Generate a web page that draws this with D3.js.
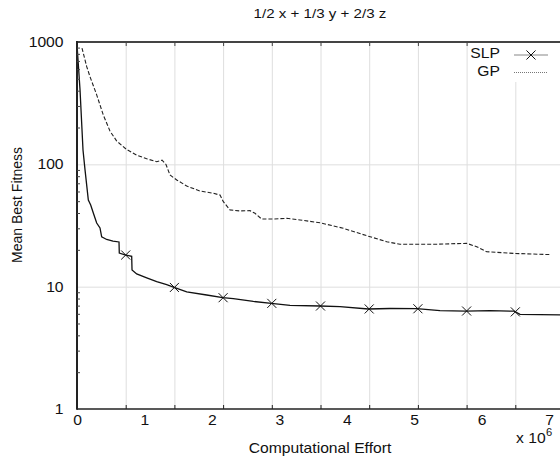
<!DOCTYPE html>
<html>
<head>
<meta charset="utf-8">
<script src="https://cdn.jsdelivr.net/npm/d3@7"></script>
<style>
  body { margin: 0; background: #fff; }
  svg  { font-family: "Liberation Sans", Arial, Helvetica, sans-serif; }
</style>
</head>
<body>
<script>
const WIDTH  = 560;
const HEIGHT = 459;
const LEFT = 77, RIGHT = 564, TOP = 42, BOTTOM = 409;
const STRETCH = "scale(1.12,1)";   // glyphs in the original are a bit wide

// effort in millions of evaluations
const X_MAX = 7.222;

// SLP run (solid line)
const slpEffort  = [0, 0.045, 0.089, 0.119, 0.168, 0.203, 0.242, 0.292, 0.341, 0.366,
                    0.440, 0.534, 0.623, 0.627, 0.712, 0.811, 0.816, 0.885, 1.034, 1.182,
                    1.330, 1.439, 1.627, 1.923, 2.161, 2.318, 2.615, 2.882, 3.159, 3.604,
                    3.900, 4.320, 4.642, 5.038, 5.383, 5.765, 6.125, 6.466, 6.481, 6.570, 7.163];
const slpFitness = [950, 405, 131, 90, 51.1, 46.5, 40, 33.1, 30.2, 25.5,
                    24.3, 23.6, 23.2, 18.8, 18.2, 17.7, 13.7, 12.7, 11.8, 11.0,
                    10.4, 9.88, 9.05, 8.55, 8.13, 7.97, 7.57, 7.31, 7.02, 6.95,
                    6.86, 6.57, 6.63, 6.61, 6.38, 6.32, 6.38, 6.30, 6.30, 5.94, 5.87];

// GP run (dashed line)
const gpEffort  = [0.074, 0.144, 0.193, 0.292, 0.390, 0.489, 0.589, 0.737, 0.885, 1.034,
                   1.182, 1.261, 1.320, 1.379, 1.479, 1.627, 1.824, 2.021, 2.121, 2.170,
                   2.269, 2.417, 2.566, 2.640, 2.739, 2.911, 3.110, 3.307, 3.604, 3.949,
                   4.296, 4.593, 4.790, 5.284, 5.779, 5.928, 6.076, 6.470, 7.004];
const gpFitness = [893, 629, 520, 370, 253, 187, 155, 132, 119, 111,
                   105, 108, 99.7, 81.8, 74.5, 66.5, 60.5, 58.0, 56.1, 49.5,
                   42.4, 41.6, 41.8, 39.8, 35.7, 35.7, 36.2, 35.1, 33.3, 30.0,
                   26.1, 23.3, 22.2, 22.2, 22.6, 21.2, 19.3, 18.7, 18.3];

const xTickLabels = [0, 1, 2, 3, 4, 5, 6, 7];
const yTickValues = [1, 10, 100, 1000];

const svg = d3.select("body").append("svg")
    .attr("width", WIDTH)
    .attr("height", HEIGHT);

const xScale = d3.scaleLinear().domain([0, X_MAX]).range([LEFT, RIGHT]);
const yScale = d3.scaleLog().domain([1, 1000]).range([BOTTOM, TOP]);

// gridlines / marker positions: ten equal steps of the effort axis
const gridValues  = d3.range(1, 10).map(k => k * X_MAX / 10);
const minorValues = [1, 10, 100].flatMap(d => d3.range(2, 10).map(m => m * d));

function addText(x, y, str, size, anchor) {
  return svg.append("text")
    .attr("transform", "translate(" + x + "," + y + ") " + STRETCH)
    .attr("text-anchor", anchor)
    .style("font-size", size + "px")
    .style("fill", "#111")
    .text(str);
}

function drawGrid() {
  svg.append("g")
    .attr("transform", "translate(0," + BOTTOM + ")")
    .call(d3.axisBottom(xScale).tickValues(gridValues).tickSize(-(BOTTOM - TOP)).tickFormat(""))
    .call(g => g.select(".domain").remove())
    .call(g => g.selectAll("line").attr("stroke", "#dedede"));
  svg.append("g")
    .attr("transform", "translate(" + LEFT + ",0)")
    .call(d3.axisLeft(yScale).tickValues([10, 100]).tickSize(-(RIGHT - LEFT)).tickFormat(""))
    .call(g => g.select(".domain").remove())
    .call(g => g.selectAll("line").attr("stroke", "#dedede"));
}

// log-space interpolation, so the x markers sit on the drawn curve
function valueAt(xs, ys, x) {
  const i = Math.min(Math.max(d3.bisectLeft(xs, x), 1), xs.length - 1);
  const t = (x - xs[i - 1]) / (xs[i] - xs[i - 1]);
  return Math.exp(Math.log(ys[i - 1]) * (1 - t) + Math.log(ys[i]) * t);
}

function drawCurves() {
  svg.append("clipPath").attr("id", "plot-clip")
    .append("rect")
      .attr("x", LEFT).attr("y", TOP)
      .attr("width", RIGHT - LEFT).attr("height", BOTTOM - TOP);

  const line = d3.line().x(d => xScale(d[0])).y(d => yScale(d[1]));
  const plot = svg.append("g").attr("clip-path", "url(#plot-clip)");

  plot.append("path")
    .datum(gpEffort.map((x, i) => [x, gpFitness[i]]))
    .attr("d", line)
    .attr("fill", "none")
    .attr("stroke", "#222")
    .attr("stroke-width", 1.1)
    .attr("stroke-dasharray", "4,2");

  plot.append("path")
    .datum(slpEffort.map((x, i) => [x, slpFitness[i]]))
    .attr("d", line)
    .attr("fill", "none")
    .attr("stroke", "#111")
    .attr("stroke-width", 1.3);

  const sym = d3.symbol().type(d3.symbolX).size(55);
  plot.selectAll(".mark")
    .data(gridValues)
    .enter()
    .append("path").attr("class", "mark")
      .attr("transform", d => "translate(" + xScale(d) + "," + yScale(valueAt(slpEffort, slpFitness, d)) + ")")
      .attr("d", sym)
      .attr("fill", "none")
      .attr("stroke", "#111")
      .attr("stroke-width", 1);
}

function drawAxes() {
  // frame lines
  svg.append("line").attr("x1", LEFT).attr("x2", RIGHT).attr("y1", TOP).attr("y2", TOP)
    .attr("stroke", "#444").attr("stroke-width", 2);
  svg.append("line").attr("x1", LEFT).attr("x2", RIGHT).attr("y1", BOTTOM).attr("y2", BOTTOM)
    .attr("stroke", "#222").attr("stroke-width", 1.5);
  svg.append("line").attr("x1", LEFT).attr("x2", LEFT).attr("y1", TOP - 1).attr("y2", BOTTOM + 0.75)
    .attr("stroke", "#222").attr("stroke-width", 2);

  // small ticks on the grid positions
  svg.append("g")
    .attr("transform", "translate(0," + TOP + ")")
    .call(d3.axisBottom(xScale).tickValues(gridValues).tickSize(4).tickFormat(""))
    .call(g => g.select(".domain").remove())
    .call(g => g.selectAll("line").attr("stroke", "#444"));
  svg.append("g")
    .attr("transform", "translate(0," + BOTTOM + ")")
    .call(d3.axisTop(xScale).tickValues(gridValues).tickSize(4).tickFormat(""))
    .call(g => g.select(".domain").remove())
    .call(g => g.selectAll("line").attr("stroke", "#222"));
  svg.append("g")
    .attr("transform", "translate(" + LEFT + ",0)")
    .call(d3.axisRight(yScale).tickValues(minorValues).tickSize(3).tickFormat(""))
    .call(g => g.select(".domain").remove())
    .call(g => g.selectAll("line").attr("stroke", "#444"));

  // tick labels
  svg.append("g")
    .attr("transform", "translate(0," + BOTTOM + ")")
    .call(d3.axisBottom(xScale).tickValues(xTickLabels).tickSize(0).tickPadding(6).tickFormat(d3.format("d")))
    .call(g => g.select(".domain").remove())
    .call(g => g.selectAll("text")
      .attr("transform", STRETCH)
      .style("font-size", "14px")
      .style("font-family", "inherit")
      .style("fill", "#111"));
  svg.append("g")
    .attr("transform", "translate(" + LEFT + ",0)")
    .call(d3.axisLeft(yScale).tickValues(yTickValues).tickSize(0).tickPadding(12).tickFormat(d3.format("d")))
    .call(g => g.select(".domain").remove())
    .call(g => g.selectAll("text")
      .attr("transform", STRETCH)
      .style("font-size", "14px")
      .style("font-family", "inherit")
      .style("fill", "#111"));

  // titles
  addText(320, 18, "1/2 x + 1/3 y + 2/3 z", 13.5, "middle");
  addText(320, 453, "Computational Effort", 14, "middle");
  addText(516, 443, "x 10", 14, "start");
  addText(546, 436, "6", 10, "start");

  svg.append("text")
    .attr("transform", "translate(22,205) rotate(-90)")
    .attr("text-anchor", "middle")
    .style("font-size", "14px")
    .style("fill", "#111")
    .text("Mean Best Fitness");
}

function drawLegend() {
  svg.append("rect")
    .attr("x", 468).attr("y", 43)
    .attr("width", 92).attr("height", 39)
    .attr("fill", "#fff");

  addText(500, 58, "SLP", 14, "end");
  addText(500, 76, "GP", 14, "end");

  svg.append("line").attr("x1", 514).attr("x2", 548).attr("y1", 55).attr("y2", 55)
    .attr("stroke", "#888").attr("stroke-width", 1.2);
  svg.append("path")
    .attr("transform", "translate(531,55)")
    .attr("d", d3.symbol().type(d3.symbolX).size(55))
    .attr("fill", "none").attr("stroke", "#111");
  svg.append("line").attr("x1", 514).attr("x2", 548).attr("y1", 72.5).attr("y2", 72.5)
    .attr("stroke", "#777").attr("stroke-width", 1).attr("stroke-dasharray", "1,1");
}

drawGrid();
drawCurves();
drawAxes();
drawLegend();
</script>
</body>
</html>
